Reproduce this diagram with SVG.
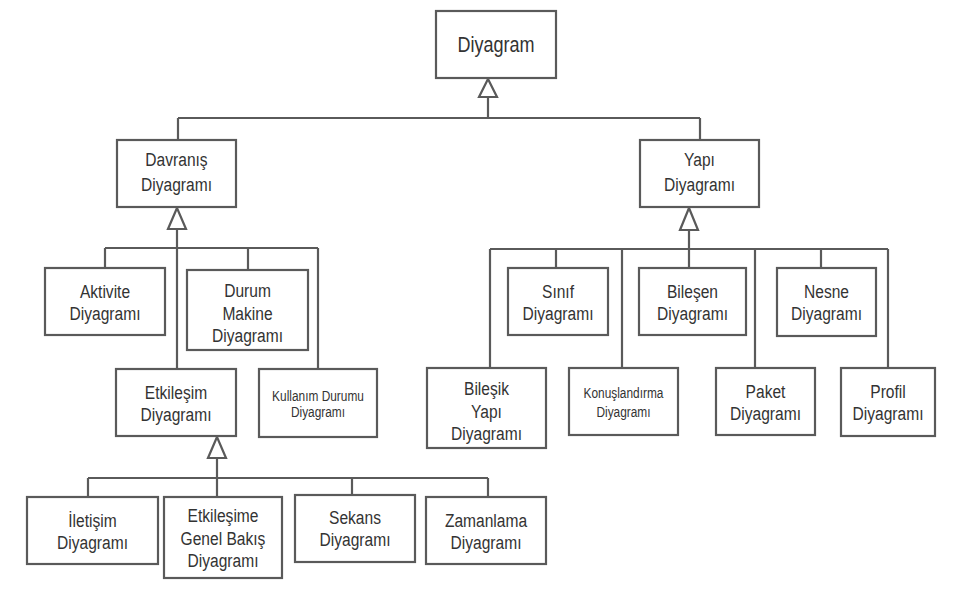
<svg xmlns="http://www.w3.org/2000/svg" width="960" height="600" viewBox="0 0 960 600">
<style>
.box{fill:#fff;stroke:#5a5a5a;stroke-width:2.2}
.ln{fill:none;stroke:#5a5a5a;stroke-width:2.2}
.tri{fill:#fff;stroke:#5a5a5a;stroke-width:2.2;stroke-linejoin:miter}
text{font-family:"Liberation Sans",Arial,sans-serif;fill:#333;text-anchor:middle;font-size:19px}
.big{font-size:22px}
.sm{font-size:14.5px}
</style>
<rect width="960" height="600" fill="#fff"/>
<g id="connectors">
<path class="ln" d="M488 97V118M178 118H700M178 118V140M700 118V140"/>
<path class="ln" d="M177 229V369M105 248H318M105 248V268M248 248V270M318 248V369"/>
<path class="ln" d="M217 458V497M88 478H488M88 478V497M352 478V495M488 478V497"/>
<path class="ln" d="M689 230V268M490 249H888M490 249V368M556 249V268M622 249V368M755 249V368M821 249V268M888 249V368"/>
<polygon class="tri" points="488,79 479,97 497,97"/>
<polygon class="tri" points="177,208 168,229 186,229"/>
<polygon class="tri" points="217,437 208,458 226,458"/>
<polygon class="tri" points="689,208 680,230 698,230"/>
</g>
<g id="diyagram"><rect class="box" x="436" y="11" width="120" height="67"/><text class="big" transform="translate(496 0) scale(0.82 1)" y="52">Diyagram</text></g>
<g id="davranis"><rect class="box" x="117" y="140" width="119" height="67"/><g transform="translate(176.5 0) scale(0.82 1)"><text y="166">Davranış</text><text y="191">Diyagramı</text></g></g>
<g id="yapi"><rect class="box" x="640" y="140" width="119" height="67"/><g transform="translate(699.5 0) scale(0.82 1)"><text y="166">Yapı</text><text y="191">Diyagramı</text></g></g>
<g id="aktivite"><rect class="box" x="45" y="268" width="120" height="67"/><g transform="translate(105 0) scale(0.82 1)"><text y="298">Aktivite</text><text y="320">Diyagramı</text></g></g>
<g id="durum"><rect class="box" x="187" y="270" width="121" height="80"/><g transform="translate(247.5 0) scale(0.82 1)"><text y="297">Durum</text><text y="320">Makine</text><text y="342">Diyagramı</text></g></g>
<g id="etkilesim"><rect class="box" x="116" y="369" width="120" height="67"/><g transform="translate(176 0) scale(0.82 1)"><text y="399">Etkileşim</text><text y="421">Diyagramı</text></g></g>
<g id="kullanim"><rect class="box" x="259" y="369" width="118" height="68"/><g transform="translate(318 0) scale(0.82 1)"><text class="sm" y="401">Kullanım Durumu</text><text class="sm" y="417">Diyagramı</text></g></g>
<g id="iletisim"><rect class="box" x="27" y="497" width="131" height="67"/><g transform="translate(92.5 0) scale(0.82 1)"><text y="527">İletişim</text><text y="549">Diyagramı</text></g></g>
<g id="genel"><rect class="box" x="164" y="497" width="118" height="81"/><g transform="translate(223 0) scale(0.82 1)"><text y="522">Etkileşime</text><text y="545">Genel Bakış</text><text y="567">Diyagramı</text></g></g>
<g id="sekans"><rect class="box" x="295" y="495" width="120" height="67"/><g transform="translate(355 0) scale(0.82 1)"><text y="524">Sekans</text><text y="546">Diyagramı</text></g></g>
<g id="zamanlama"><rect class="box" x="426" y="497" width="120" height="67"/><g transform="translate(486 0) scale(0.82 1)"><text y="527">Zamanlama</text><text y="549">Diyagramı</text></g></g>
<g id="sinif"><rect class="box" x="508" y="268" width="100" height="67"/><g transform="translate(558 0) scale(0.82 1)"><text y="298">Sınıf</text><text y="320">Diyagramı</text></g></g>
<g id="bilesen"><rect class="box" x="639" y="268" width="107" height="67"/><g transform="translate(692.5 0) scale(0.82 1)"><text y="298">Bileşen</text><text y="320">Diyagramı</text></g></g>
<g id="nesne"><rect class="box" x="777" y="268" width="99" height="68"/><g transform="translate(826.5 0) scale(0.82 1)"><text y="298">Nesne</text><text y="320">Diyagramı</text></g></g>
<g id="bilesik"><rect class="box" x="427" y="368" width="119" height="80"/><g transform="translate(486.5 0) scale(0.82 1)"><text y="395">Bileşik</text><text y="418">Yapı</text><text y="440">Diyagramı</text></g></g>
<g id="konuslandirma"><rect class="box" x="569" y="368" width="109" height="67"/><g transform="translate(623.5 0) scale(0.82 1)"><text class="sm" y="398">Konuşlandırma</text><text class="sm" y="417">Diyagramı</text></g></g>
<g id="paket"><rect class="box" x="716" y="368" width="99" height="67"/><g transform="translate(765.5 0) scale(0.82 1)"><text y="398">Paket</text><text y="420">Diyagramı</text></g></g>
<g id="profil"><rect class="box" x="841" y="368" width="94" height="68"/><g transform="translate(888 0) scale(0.82 1)"><text y="398">Profil</text><text y="420">Diyagramı</text></g></g>
</svg>
